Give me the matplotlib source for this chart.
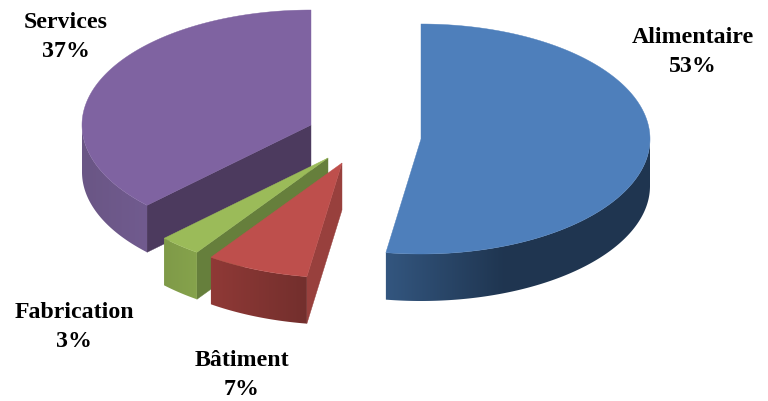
import numpy as np
import matplotlib
matplotlib.use("Agg")
import matplotlib.pyplot as plt
from matplotlib.colors import LinearSegmentedColormap
from matplotlib.patches import Polygon

categories = ["Alimentaire", "Bâtiment", "Fabrication", "Services"]
labels_pct = [53, 7, 3, 37]
# slice sizes, slightly off the rounded labels
shares = [52.45, 7.25, 3.0, 37.3]

top_colors = ["#4e7fbb", "#be4f4c", "#9bbb59", "#7f63a1"]
cut_colors = ["#1f3550", "#98403d", "#667f3c", "#4c3a5e"]
side_left = ["#33567f", "#8f3936", "#7f9a48", "#6a5685"]
side_right = ["#1f3550", "#732f2d", "#86a34c", "#715b8f"]
# x range over which each side wall goes from left to right colour
side_span = [(386, 505), (212, 306), (163, 197), (83, 148)]

# tip of each slice in pixels (exploded pie)
centers = [(421, 139), (342, 163), (328, 158), (311, 125)]
label_pos = [(693, 52), (242, 375), (74, 327), (66, 37)]

rx, ry = 229, 115
depth = 47

fig = plt.figure(figsize=(7.68, 4.01), dpi=100)
ax = fig.add_axes([0, 0, 1, 1])
ax.axis("off")


def rim(c, a0, a1):
    t = np.radians(np.linspace(a0, a1, max(int(a1 - a0) * 2, 8)))
    return c[0] + rx * np.sin(t), c[1] - ry * np.cos(t)


angles = np.cumsum([0] + shares) * 3.6

for i in [3, 0, 2, 1]:
    c = centers[i]
    a0, a1 = angles[i], angles[i + 1]
    x, y = rim(c, a0, a1)

    # cut face seen from the front
    if i != 0:
        ax.add_patch(Polygon([c, (c[0], c[1] + depth), (x[0], y[0] + depth), (x[0], y[0])],
                             fc=cut_colors[i], ec=cut_colors[i], lw=0.3))

    # outer wall, shaded left to right
    xw, yw = rim(c, max(a0, 90), min(a1, 270))
    wall = Polygon(np.column_stack([np.r_[xw, xw[::-1]], np.r_[yw, yw[::-1] + depth]]),
                   fc="none", ec="none")
    ax.add_patch(wall)
    cmap = LinearSegmentedColormap.from_list("side", [side_left[i], side_right[i]])
    x0, x1 = side_span[i]
    img = ax.imshow(np.clip((np.arange(768) - x0) / (x1 - x0), 0, 1)[None, :], cmap=cmap,
                    vmin=0, vmax=1, extent=(0, 768, 401, 0), aspect="auto", zorder=1)
    img.set_clip_path(wall)

    # top face
    ax.add_patch(Polygon(np.column_stack([np.r_[c[0], x], np.r_[c[1], y]]),
                         fc=top_colors[i], ec=top_colors[i], lw=0.3, zorder=3))

    ax.text(label_pos[i][0], label_pos[i][1],
            "%s\n%d%%" % (categories[i], labels_pct[i]),
            family="Liberation Serif", weight="bold", fontsize=17.2,
            ha="center", va="center", linespacing=1.45, color="black", zorder=5)

ax.set_xlim(0, 768)
ax.set_ylim(401, 0)
fig.savefig("out.png", dpi=100)
